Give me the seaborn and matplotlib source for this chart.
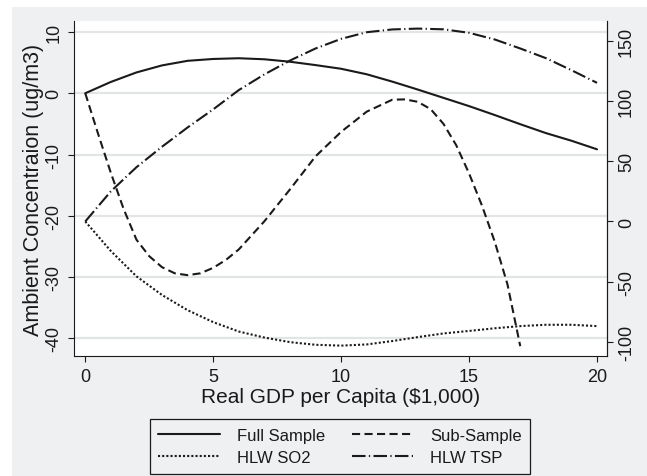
import numpy as np
import pandas as pd
import matplotlib
matplotlib.use("Agg")
import matplotlib.pyplot as plt
from matplotlib.patches import Rectangle
import seaborn as sns

# ==========================================
# DATA
# ==========================================

gdp = [0, 1, 2, 3, 4, 5, 6, 7, 8, 9, 10, 11, 12, 13, 14, 15, 16, 17, 18, 19, 20]

full_sample = [0, 1.85, 3.4, 4.55, 5.3, 5.6, 5.72, 5.55, 5.15, 4.6, 4.0,
               3.1, 1.9, 0.6, -0.75, -2.1, -3.55, -5.05, -6.5, -7.75, -9.15]

sub_gdp = [0, 0.5, 1, 1.5, 2, 2.5, 3, 3.5, 4, 4.5, 5, 5.5, 6, 7, 8, 9, 10,
           11, 12, 12.5, 13, 13.5, 14, 14.5, 15, 15.5, 16, 16.5, 17]
sub_sample = [0, -6.6, -13.0, -18.9, -23.9, -26.6, -28.4, -29.4, -29.7, -29.4,
              -28.5, -27.2, -25.5, -20.9, -15.7, -10.3, -6.3, -3.0, -1.05, -1.0,
              -1.4, -2.6, -5.0, -8.5, -13.1, -18.3, -24.2, -31.2, -41.3]

# HLW curves are on the right axis
hlw_so2 = [0, -24.5, -45.5, -61, -73.6, -83.5, -91.3, -96.3, -100.1, -102.3, -103,
           -102, -99.2, -95.9, -92.9, -90.8, -88.6, -86.8, -85.7, -85.7, -86.8]
hlw_tsp = [0, 25, 45, 62, 78, 93, 109, 122, 133.5, 143.5, 151.5,
           157, 159.3, 160, 159.4, 156.5, 151, 143.5, 135.5, 125.5, 115]

left_ticks = [-40, -30, -20, -10, 0, 10]
right_ticks = [-100, -50, 0, 50, 100, 150]
x_ticks = [0, 5, 10, 15, 20]

# ==========================================
# STYLE
# ==========================================

sns.set_style("ticks")
plt.rcParams["font.family"] = ["Liberation Sans", "DejaVu Sans"]
plt.rcParams["text.color"] = "#1a1a1a"
plt.rcParams["axes.unicode_minus"] = False

W, H = 647, 477
fig = plt.figure(figsize=(W / 100, H / 100), dpi=100)
fig.patch.set_facecolor("white")
bg = "#EFF0F2"
fig.patches.append(Rectangle((12 / W, 0), 1 - 12 / W, (H - 8) / H,
                             transform=fig.transFigure, facecolor=bg,
                             edgecolor="none", zorder=-1))

ax = fig.add_axes([74 / W, (H - 357) / H, (607 - 74) / W, (357 - 22) / H])
ax.set_facecolor("white")
ax2 = ax.twinx()

lw = 1.5
col = "#1a1a1a"

# ==========================================
# LINES
# ==========================================

sns.lineplot(x=gdp, y=full_sample, ax=ax, color=col, linewidth=lw,
             linestyle="-", label="Full Sample", legend=False)
sns.lineplot(x=sub_gdp, y=sub_sample, ax=ax, color=col, linewidth=lw,
             linestyle=(0, (3.9, 2.1)), label="Sub-Sample", legend=False)
sns.lineplot(x=gdp, y=hlw_so2, ax=ax2, color=col, linewidth=lw,
             linestyle=(0, (1, 1)), label="HLW SO2", legend=False)
sns.lineplot(x=gdp, y=hlw_tsp, ax=ax2, color=col, linewidth=lw,
             linestyle=(0, (6.5, 1.6, 0.6, 1.6)), label="HLW TSP", legend=False)

# ==========================================
# AXES
# ==========================================

ax.set_xlim(-0.44, 20.39)
ax.set_ylim(-42.9, 11.8)
ax2.set_ylim(-111.6, 166.3)

ax.set_xticks(x_ticks)
ax.set_yticks(left_ticks)
ax2.set_yticks(right_ticks)

ax.grid(axis="y", color="#E3E4E5", linewidth=1.6)
ax.set_axisbelow(True)

for a in (ax, ax2):
    a.spines["top"].set_visible(False)
    for s in ("left", "right", "bottom"):
        a.spines[s].set_linewidth(0.8)
        a.spines[s].set_color(col)
ax2.spines["left"].set_visible(False)
ax2.spines["bottom"].set_visible(False)

ax.tick_params(axis="x", length=4.5, width=0.8, pad=4, labelsize=13, colors=col)
ax.tick_params(axis="y", length=4.5, width=0.8, pad=4, labelsize=13, colors=col)
ax2.tick_params(axis="y", length=4.5, width=0.8, pad=3.5, labelsize=13, colors=col)
for t in ax.get_yticklabels() + ax2.get_yticklabels():
    t.set_rotation(90)
    t.set_va("center")

ax.set_xlabel("Real GDP per Capita ($1,000)", fontsize=15, color=col)
ax.set_ylabel("Ambient Concentraion (ug/m3)", fontsize=15.5, color=col)
ax.xaxis.set_label_coords(0.5, -0.093)
ax.yaxis.set_label_coords(-0.056, 0.5)

# ==========================================
# LEGEND
# ==========================================

handles = [ax.lines[0], ax2.lines[0], ax.lines[1], ax2.lines[1]]
labels = ["Full Sample", "HLW SO2", "Sub-Sample", "HLW TSP"]
leg = fig.legend(handles, labels, loc="center",
                 bbox_to_anchor=(340 / W, 1 - 447.5 / H), ncol=2,
                 fontsize=12, frameon=True, fancybox=False, framealpha=1,
                 facecolor=bg, edgecolor=col, handlelength=3.7,
                 handletextpad=1.0, columnspacing=1.6, borderpad=0.5,
                 labelspacing=0.45)
leg.get_frame().set_linewidth(0.9)

fig.savefig("out.png", dpi=100)
